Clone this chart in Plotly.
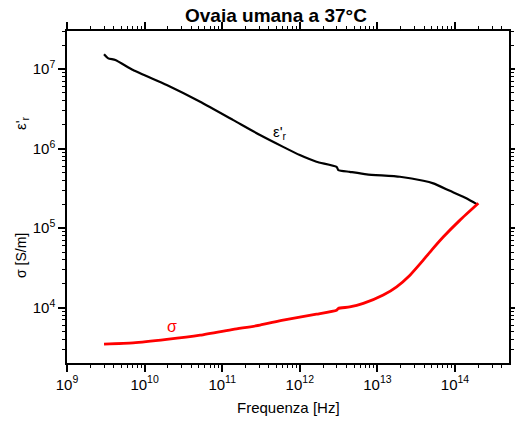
import plotly.graph_objects as go

# Relative permittivity (real part) vs frequency
freq_eps = [3.0e9, 3.4e9, 4.2e9, 7.1e9, 1.93e10, 5.2e10, 1.39e11, 3.07e11, 6.1e11,
            1.0e12, 1.64e12, 2.98e12, 3.13e12, 4.4e12, 7.28e12, 1.95e13, 3.91e13,
            5.25e13, 8.6e13, 1.42e14, 1.91e14]
eps_r = [1.53e7, 1.36e7, 1.30e7, 9.7e6, 6.3e6, 3.88e6, 2.28e6, 1.48e6, 1.05e6,
         8.28e5, 6.82e5, 5.9e5, 5.37e5, 5.1e5, 4.74e5, 4.42e5, 3.94e5,
         3.65e5, 2.94e5, 2.36e5, 2.0e5]

# Conductivity [S/m] vs frequency
freq_sig = [3.0e9, 7.1e9, 1.93e10, 5.2e10, 1.39e11, 3.07e11, 6.1e11, 1.64e12,
            2.98e12, 3.13e12, 4.4e12, 6.58e12, 1.19e13, 1.77e13, 2.63e13, 3.9e13,
            5.0e13, 7.1e13, 1.16e14, 2.0e14]
sigma = [3.48e3, 3.6e3, 3.98e3, 4.5e3, 5.32e3, 6.03e3, 6.97e3, 8.28e3,
         9.3e3, 9.78e3, 1.02e4, 1.13e4, 1.44e4, 1.83e4, 2.56e4, 3.95e4,
         5.28e4, 7.77e4, 1.26e5, 2.05e5]

# Decade tick positions (exponents) and labels
x_exps = [9, 10, 11, 12, 13, 14]
y_exps = [4, 5, 6, 7]
x_range = [9, 14.696]
y_range = [3.304, 7.478]

FONT = "Liberation Sans, Arial, sans-serif"

fig = go.Figure()
fig.add_trace(go.Scatter(x=freq_eps, y=eps_r, mode="lines",
                         line=dict(color="black", width=2.2, shape="spline", smoothing=0.5),
                         showlegend=False))
fig.add_trace(go.Scatter(x=freq_sig, y=sigma, mode="lines",
                         line=dict(color="#ff0000", width=2.8, shape="spline", smoothing=0.5),
                         showlegend=False))
# empty trace that carries the minor-tick overlay axes
fig.add_trace(go.Scatter(x=[None], y=[None], xaxis="x2", yaxis="y2", mode="lines",
                         showlegend=False, hoverinfo="skip"))

axis_common = dict(
    type="log", showgrid=False, zeroline=False, showline=True,
    linecolor="black", linewidth=1.5, mirror="allticks",
    ticks="outside", ticklen=7, tickwidth=1.5, tickcolor="black",
    tickmode="array",
    tickfont=dict(family=FONT, size=15, color="black"),
)

fig.update_layout(
    xaxis=dict(range=x_range,
               tickvals=[10.0 ** e for e in x_exps],
               ticktext=[f"10<sup>{e}</sup>" for e in x_exps],
               **axis_common),
    yaxis=dict(range=y_range,
               tickvals=[10.0 ** e for e in y_exps],
               ticktext=[f"10<sup>{e}</sup>" for e in y_exps],
               **axis_common),
)


def minor_vals(lo, hi):
    return [m * 10.0 ** e for e in range(lo, hi) for m in range(2, 10)]


# Minor ticks (2..9 of each decade) on overlay axes, mirrored on all sides
minor_axis = dict(type="log", showgrid=False, zeroline=False, showline=False,
                  showticklabels=False, mirror="ticks", ticks="outside",
                  ticklen=4, tickwidth=1.3, tickcolor="black", tickmode="array")
fig.update_layout(
    xaxis2=dict(overlaying="x", anchor="y2", side="bottom", range=x_range,
                tickvals=minor_vals(9, 15), **minor_axis),
    yaxis2=dict(overlaying="y", anchor="x2", side="left", range=y_range,
                tickvals=minor_vals(3, 8), **minor_axis),
)

W, H = 515, 425
L, R, T, B = 67, 6, 31, 62
pw, ph = W - L - R, H - T - B


def px(x):
    return (x - L) / pw


def py(y):
    return (H - B - y) / ph


annotations = [
    dict(text="<b>Ovaia umana a 37°C</b>", x=px(276), y=py(15),
         font=dict(family=FONT, size=19, color="black")),
    dict(text="Frequenza [Hz]", x=px(288), y=py(408),
         font=dict(family=FONT, size=15, color="black")),
    dict(text="ε'<sub>r</sub>", x=px(21), y=py(123), textangle=-90,
         font=dict(family=FONT, size=15, color="black")),
    dict(text="σ [S/m]", x=px(21), y=py(256), textangle=-90,
         font=dict(family=FONT, size=14, color="black")),
    dict(text="ε'<sub>r</sub>", x=px(280), y=py(132),
         font=dict(family=FONT, size=15, color="black")),
    dict(text="σ", x=px(172), y=py(326),
         font=dict(family=FONT, size=16, color="#ff0000")),
]
for a in annotations:
    a.update(xref="paper", yref="paper", showarrow=False,
             xanchor="center", yanchor="middle")

fig.update_layout(
    width=W, height=H,
    margin=dict(l=L, r=R, t=T, b=B, autoexpand=False),
    paper_bgcolor="white", plot_bgcolor="white",
    annotations=annotations,
)

fig.write_html("out.html")
